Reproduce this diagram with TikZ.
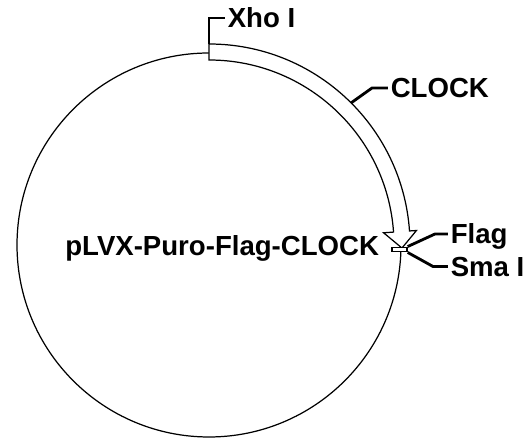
\documentclass[tikz,border=0pt]{standalone}
\usepackage{fontspec}
\setmainfont{Liberation Sans}
\tikzset{
	lbl/.style={anchor=west, inner sep=0pt, inner xsep=1.4pt, text depth=0pt},
	leader/.style={line width=1.6pt},
	plasmid/.style={line width=0.7pt}
}
\begin{document}
\begin{tikzpicture}[x=0.02cm, y=0.02cm, font=\fontsize{15.7}{18}\selectfont\bfseries]
	\useasboundingbox (0,0) rectangle (529,439);

	\node[lbl] (xho) at (225, 421) {Xho I};
	\node[lbl] (clock) at (388, 351) {CLOCK};
	\node[lbl] (flag) at (448, 205) {Flag};
	\node[lbl] (sma) at (448, 172.5) {Sma I};
	\node[lbl, inner xsep=0pt] (title) at (65, 193) {pLVX-Puro-Flag-CLOCK};

	\begin{scope}[shift={(209,194)}]
		\draw[plasmid] (0,0) circle (192);
		\draw[plasmid, fill=white] (90:201) arc[start angle=90, end angle=4, radius=201]
			-- (4:208) -- (-0.9:193) -- (4:175) -- (4:185)
			arc[start angle=4, end angle=90, radius=185] -- cycle;
		\coordinate (xhocut) at (90:201);
		\coordinate (clockcut) at (45:201);
	\end{scope}

	\node[draw, fill=white, line width=0.8pt, minimum width=0.3cm, minimum height=0.09cm,
		inner sep=0pt] (flagbar) at (399.5, 189.5) {};

	\draw[leader] (xhocut) |- (xho.west);
	\draw[leader] (clockcut) -- (372, 351) -- (clock.west);
	\draw[leader] (flagbar.north east) -- (435, 205) -- (flag.west);
	\draw[leader] (flagbar.south east) -- (433, 172.5) -- (sma.west);
\end{tikzpicture}
\end{document}
